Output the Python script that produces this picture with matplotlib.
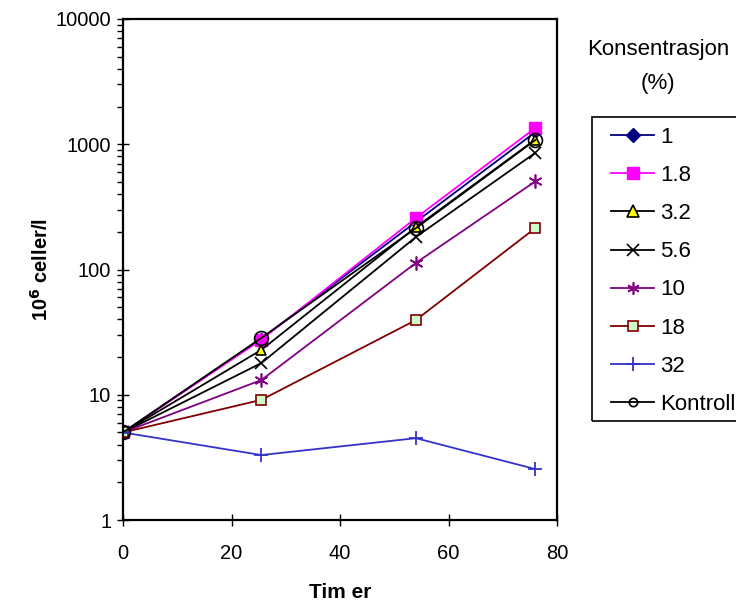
import matplotlib
matplotlib.use("Agg")
import matplotlib.pyplot as plt
from matplotlib.patches import Rectangle
from matplotlib.ticker import LogLocator, NullFormatter, FixedLocator

plt.rcParams['font.family'] = ['Liberation Sans', 'DejaVu Sans']

hours = [0, 25.5, 54, 76]
labels = ["1", "1.8", "3.2", "5.6", "10", "18", "32", "Kontroll"]
s1 = [5, 28, 240, 1250]
s1_8 = [5, 27.5, 258, 1350]
s3_2 = [5, 22.8, 218, 1090]
s5_6 = [5, 17.9, 182, 854]
s10 = [5, 13.1, 113, 505]
s18 = [5, 9.1, 39.5, 214]
s32 = [5, 3.3, 4.5, 2.55]
kontroll = [5, 28.4, 214, 1080]

series = [s1, s1_8, s3_2, s5_6, s10, s18, s32, kontroll]
styles = [
    dict(color="#000080", marker="D", ms=6.5, mfc="#000080", mec="#000080"),
    dict(color="#FF00FF", marker="s", ms=8, mfc="#FF00FF", mec="#FF00FF"),
    dict(color="black", marker="^", ms=7.5, mfc="#FFFF00", mec="black", mew=1.2),
    dict(color="black", marker="x", ms=8, mec="black", mew=1.2),
    dict(color="#800080", marker=(6, 2, 0), ms=10, mec="#800080", mew=1.2),
    dict(color="#800000", marker="s", ms=7, mfc="#CCFFCC", mec="#800000", mew=1.2),
    dict(color="#3333CC", marker="+", ms=10, mec="#3333CC", mew=1.3),
    dict(color="black", marker="o", ms=10, mfc="none", mec="black", mew=1.2),
]
legend_ms = [7, 8, 8, 8, 9, 7.5, 10, 6]

fig = plt.figure(figsize=(7.36, 6.08), dpi=100)
ax = fig.add_axes([123/736, 1-520/608, (557-123)/736, (520-19)/608])

lines = []
for lab, vals, st in zip(labels, series, styles):
    ln, = ax.plot(hours, vals, lw=1.3, label=lab, **st)
    lines.append(ln)

ax.set_yscale("log")
ax.set_ylim(1, 10000)
ax.set_xlim(0, 80)
ax.xaxis.set_major_locator(FixedLocator([0, 20, 40, 60, 80]))
ax.yaxis.set_major_locator(FixedLocator([1, 10, 100, 1000, 10000]))
ax.yaxis.set_major_formatter(matplotlib.ticker.FuncFormatter(lambda v, p: f"{int(v)}"))
ax.yaxis.set_minor_locator(LogLocator(base=10, subs=range(2, 10)))
ax.yaxis.set_minor_formatter(NullFormatter())

for sp in ax.spines.values():
    sp.set_linewidth(1.6)
ax.tick_params(axis="x", which="major", direction="inout", length=9, width=1, labelsize=14.5, pad=13)
ax.tick_params(axis="y", which="major", direction="inout", length=9, width=1, labelsize=14.5, pad=4)
ax.tick_params(axis="y", which="minor", direction="out", length=4, width=1)

ax.set_xlabel("Tim er", fontsize=15, fontweight="bold", labelpad=14)
ax.set_ylabel("10$^{\\mathbf{6}}$ celler/l", fontsize=14.5, fontweight="bold", labelpad=3)

fig.text(658/736, 1-50/608, "Konsentrasjon", ha="center", va="center", fontsize=16)
fig.text(658/736, 1-83/608, "(%)", ha="center", va="center", fontsize=16)

# legend frame drawn separately
fig.patches.append(Rectangle((592/736, 1-421/608), (745-592)/736, (421-117)/608,
                             transform=fig.transFigure, fill=False, edgecolor="black",
                             linewidth=1.2))

leg = fig.legend(handles=lines, loc="upper left", bbox_to_anchor=(611/736, 1-127/608),
                 fontsize=16, frameon=False,
                 handlelength=1.95, handletextpad=0.25, labelspacing=0.77,
                 borderpad=0, borderaxespad=0)
for h, m in zip(leg.legend_handles, legend_ms):
    h.set_markersize(m)

fig.savefig("out.png", dpi=100)
